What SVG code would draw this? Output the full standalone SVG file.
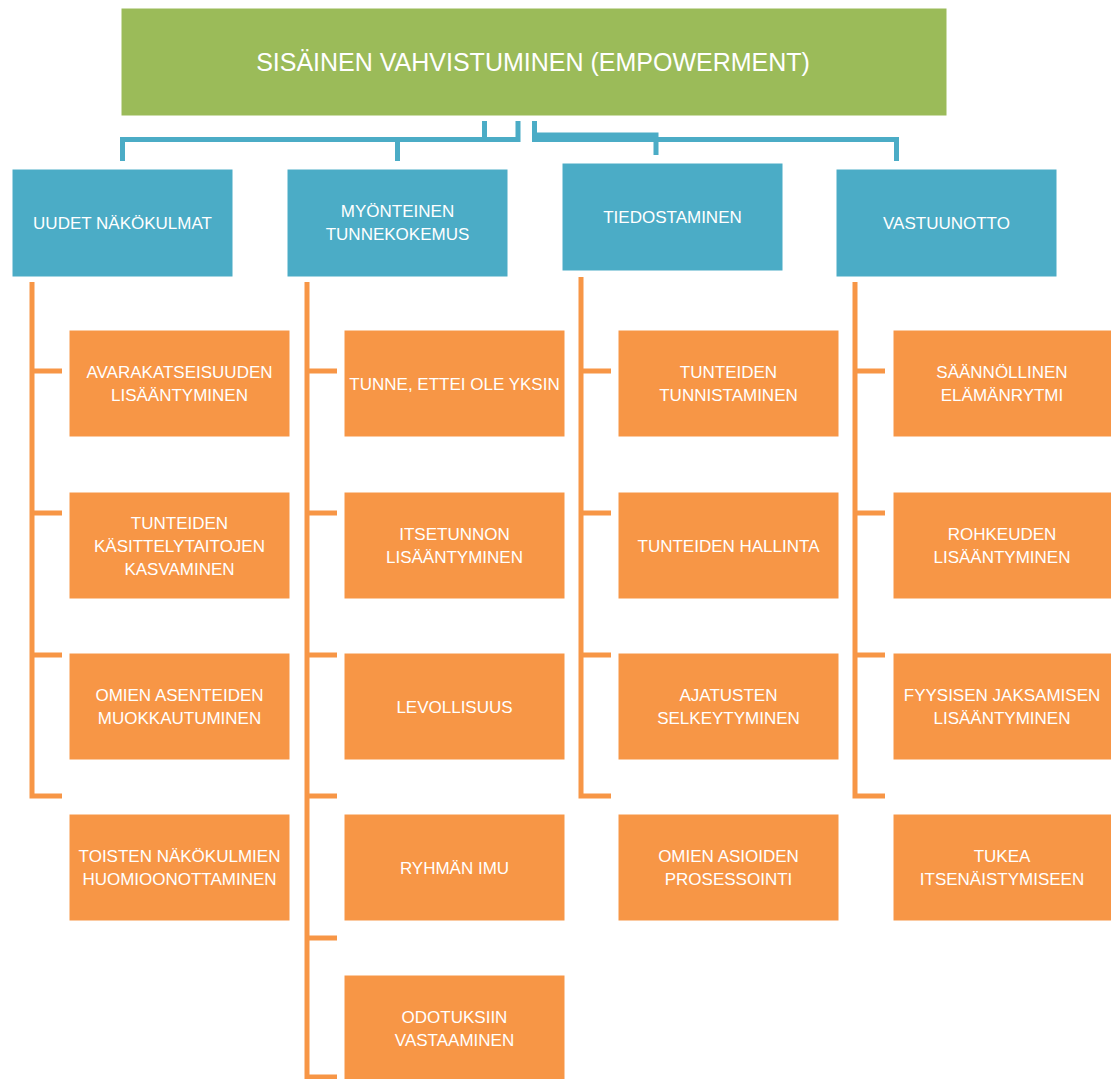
<svg xmlns="http://www.w3.org/2000/svg" width="1111" height="1079" viewBox="0 0 1111 1079">
<style>
text{font-family:"Liberation Sans",Arial,sans-serif;fill:#fff;text-anchor:middle;font-size:17px}
.title{font-size:25px}
.g{fill:#9BBB59;stroke:#fff;stroke-width:1}
.b{fill:#4BACC6;stroke:#fff;stroke-width:1}
.o{fill:#F79646;stroke:#fff;stroke-width:1}
.cb{fill:none;stroke:#4BACC6;stroke-width:5}
.co{fill:none;stroke:#F79646;stroke-width:5}
</style>
<rect width="1111" height="1079" fill="#fff"/>
<g id="connectors">
<path class="cb" d="M518,121 V139.5 H122.5 V161"/>
<path class="cb" d="M484.5,121 V139.5 H397.5 V161"/>
<path class="cb" d="M534.5,121 V135 H656 V155"/>
<path class="cb" d="M534.5,121 V139.5 H896.5 V161"/>
<path class="co" d="M32,282 V796 H62 M32,371 H62 M32,513 H62 M32,655 H62"/>
<path class="co" d="M307,282 V1077 H337 M307,371 H337 M307,513 H337 M307,655 H337 M307,796 H337 M307,938 H337"/>
<path class="co" d="M581,277 V796 H611 M581,371 H611 M581,513 H611 M581,655 H611"/>
<path class="co" d="M855,282 V796 H885 M855,371 H885 M855,513 H885 M855,655 H885"/>
</g>
<g id="root"><rect class="g" x="121" y="8" width="826" height="108"/><text class="title" x="533" y="71">SISÄINEN VAHVISTUMINEN (EMPOWERMENT)</text></g>
<g id="c1"><rect class="b" x="12" y="169" width="221" height="108"/><text x="122.5" y="229">UUDET NÄKÖKULMAT</text></g>
<g id="c2"><rect class="b" x="287" y="169" width="221" height="108"/><text x="397.5" y="216.5">MYÖNTEINEN</text><text x="397.5" y="239.5">TUNNEKOKEMUS</text></g>
<g id="c3"><rect class="b" x="562" y="163" width="221" height="108"/><text x="672.5" y="223">TIEDOSTAMINEN</text></g>
<g id="c4"><rect class="b" x="836" y="169" width="221" height="108"/><text x="946.5" y="229">VASTUUNOTTO</text></g>

<g id="c1-1"><rect class="o" x="69" y="330" width="221" height="107"/><text x="179.5" y="378">AVARAKATSEISUUDEN</text><text x="179.5" y="401">LISÄÄNTYMINEN</text></g>
<g id="c1-2"><rect class="o" x="69" y="492" width="221" height="107"/><text x="179.5" y="528.5">TUNTEIDEN</text><text x="179.5" y="551.5">KÄSITTELYTAITOJEN</text><text x="179.5" y="574.5">KASVAMINEN</text></g>
<g id="c1-3"><rect class="o" x="69" y="653" width="221" height="107"/><text x="179.5" y="701">OMIEN ASENTEIDEN</text><text x="179.5" y="724">MUOKKAUTUMINEN</text></g>
<g id="c1-4"><rect class="o" x="69" y="814" width="221" height="107"/><text x="179.5" y="862">TOISTEN NÄKÖKULMIEN</text><text x="179.5" y="885">HUOMIOONOTTAMINEN</text></g>

<g id="c2-1"><rect class="o" x="344" y="330" width="221" height="107"/><text x="454.5" y="389.5">TUNNE, ETTEI OLE YKSIN</text></g>
<g id="c2-2"><rect class="o" x="344" y="492" width="221" height="107"/><text x="454.5" y="540">ITSETUNNON</text><text x="454.5" y="563">LISÄÄNTYMINEN</text></g>
<g id="c2-3"><rect class="o" x="344" y="653" width="221" height="107"/><text x="454.5" y="712.5">LEVOLLISUUS</text></g>
<g id="c2-4"><rect class="o" x="344" y="814" width="221" height="107"/><text x="454.5" y="873.5">RYHMÄN IMU</text></g>
<g id="c2-5"><rect class="o" x="344" y="975" width="221" height="107"/><text x="454.5" y="1023">ODOTUKSIIN</text><text x="454.5" y="1046">VASTAAMINEN</text></g>

<g id="c3-1"><rect class="o" x="618" y="330" width="221" height="107"/><text x="728.5" y="378">TUNTEIDEN</text><text x="728.5" y="401">TUNNISTAMINEN</text></g>
<g id="c3-2"><rect class="o" x="618" y="492" width="221" height="107"/><text x="728.5" y="551.5">TUNTEIDEN HALLINTA</text></g>
<g id="c3-3"><rect class="o" x="618" y="653" width="221" height="107"/><text x="728.5" y="701">AJATUSTEN</text><text x="728.5" y="724">SELKEYTYMINEN</text></g>
<g id="c3-4"><rect class="o" x="618" y="814" width="221" height="107"/><text x="728.5" y="862">OMIEN ASIOIDEN</text><text x="728.5" y="885">PROSESSOINTI</text></g>

<g id="c4-1"><rect class="o" x="893" y="330" width="221" height="107"/><text x="1002" y="378">SÄÄNNÖLLINEN</text><text x="1002" y="401">ELÄMÄNRYTMI</text></g>
<g id="c4-2"><rect class="o" x="893" y="492" width="221" height="107"/><text x="1002" y="540">ROHKEUDEN</text><text x="1002" y="563">LISÄÄNTYMINEN</text></g>
<g id="c4-3"><rect class="o" x="893" y="653" width="221" height="107"/><text x="1002" y="701">FYYSISEN JAKSAMISEN</text><text x="1002" y="724">LISÄÄNTYMINEN</text></g>
<g id="c4-4"><rect class="o" x="893" y="814" width="221" height="107"/><text x="1002" y="862">TUKEA</text><text x="1002" y="885">ITSENÄISTYMISEEN</text></g>
</svg>
